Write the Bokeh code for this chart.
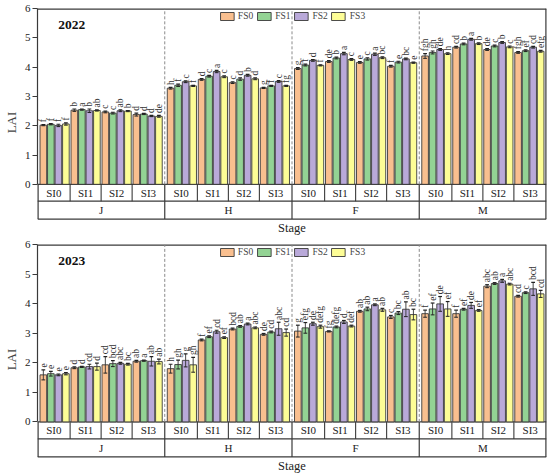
import math
from bokeh.plotting import figure
from bokeh.models import Range1d, FixedTicker, Legend, LegendItem, Label, ColumnDataSource
from bokeh.layouts import column
from bokeh.embed import file_html
from bokeh.resources import INLINE
from bokeh.core.properties import value

# ---------------- data ----------------
stages = ["J", "H", "F", "M"]
si_levels = ["SI0", "SI1", "SI2", "SI3"]
fs_levels = ["FS0", "FS1", "FS2", "FS3"]

# values ordered (stage, SI): J SI0..SI3, H SI0..SI3, F ..., M ...
lai_2022_fs0 = [2.02, 2.53, 2.47, 2.38, 3.28, 3.58, 3.47, 3.29, 3.95, 4.19, 4.16, 4.03, 4.38, 4.68, 4.60, 4.50]
lai_2022_fs1 = [2.05, 2.55, 2.43, 2.40, 3.38, 3.69, 3.59, 3.36, 4.07, 4.31, 4.28, 4.17, 4.50, 4.79, 4.72, 4.56]
lai_2022_fs2 = [2.01, 2.51, 2.51, 2.33, 3.50, 3.85, 3.72, 3.51, 4.23, 4.46, 4.44, 4.28, 4.60, 4.95, 4.84, 4.68]
lai_2022_fs3 = [2.06, 2.52, 2.50, 2.32, 3.36, 3.67, 3.60, 3.36, 4.06, 4.26, 4.32, 4.15, 4.46, 4.80, 4.69, 4.54]

err_2022_fs0 = [0.02, 0.04, 0.03, 0.05, 0.03, 0.03, 0.03, 0.02, 0.03, 0.03, 0.03, 0.03, 0.08, 0.03, 0.03, 0.03]
err_2022_fs1 = [0.02, 0.02, 0.03, 0.02, 0.04, 0.03, 0.04, 0.02, 0.03, 0.03, 0.04, 0.03, 0.05, 0.03, 0.03, 0.03]
err_2022_fs2 = [0.04, 0.06, 0.03, 0.02, 0.03, 0.04, 0.03, 0.03, 0.03, 0.04, 0.04, 0.03, 0.03, 0.03, 0.03, 0.03]
err_2022_fs3 = [0.04, 0.02, 0.02, 0.03, 0.02, 0.03, 0.03, 0.02, 0.02, 0.03, 0.03, 0.02, 0.03, 0.03, 0.03, 0.03]

sig_2022_fs0 = ["f", "b", "c", "d", "h", "d", "c", "g", "g", "de", "e", "f", "fgh", "cd", "de", "fgh"]
sig_2022_fs1 = ["f", "a", "c", "d", "f", "c", "d", "f", "f", "b", "c", "e", "gh", "b", "c", "ef"]
sig_2022_fs2 = ["f", "b", "ab", "d", "c", "a", "b", "c", "d", "a", "a", "bc", "de", "a", "b", "cd"]
sig_2022_fs3 = ["f", "ab", "b", "de", "f", "c", "d", "fg", "f", "c", "bc", "e", "h", "b", "c", "efg"]

lai_2023_fs0 = [1.59, 1.83, 1.93, 2.05, 1.80, 2.77, 3.14, 2.96, 3.07, 3.06, 3.74, 3.55, 3.66, 3.66, 4.59, 4.25]
lai_2023_fs1 = [1.63, 1.86, 1.97, 2.07, 1.94, 2.88, 3.23, 3.04, 3.18, 3.21, 3.82, 3.68, 3.82, 3.81, 4.68, 4.37]
lai_2023_fs2 = [1.59, 1.87, 1.98, 2.05, 2.08, 3.05, 3.31, 3.15, 3.32, 3.38, 3.96, 3.81, 3.99, 3.94, 4.77, 4.50]
lai_2023_fs3 = [1.63, 1.87, 1.95, 2.04, 1.93, 2.85, 3.18, 3.02, 3.22, 3.24, 3.79, 3.63, 3.82, 3.77, 4.66, 4.33]

err_2023_fs0 = [0.17, 0.03, 0.28, 0.03, 0.15, 0.03, 0.03, 0.03, 0.20, 0.02, 0.03, 0.05, 0.12, 0.12, 0.05, 0.03]
err_2023_fs1 = [0.08, 0.02, 0.10, 0.02, 0.15, 0.03, 0.03, 0.03, 0.18, 0.03, 0.06, 0.05, 0.20, 0.03, 0.03, 0.03]
err_2023_fs2 = [0.03, 0.08, 0.03, 0.16, 0.22, 0.05, 0.03, 0.22, 0.05, 0.05, 0.03, 0.25, 0.25, 0.10, 0.05, 0.22]
err_2023_fs3 = [0.04, 0.12, 0.03, 0.08, 0.25, 0.03, 0.03, 0.12, 0.05, 0.03, 0.05, 0.18, 0.25, 0.03, 0.03, 0.12]

sig_2023_fs0 = ["e", "d", "cd", "ab", "h", "f", "bcd", "de", "g", "fg", "ab", "c", "f", "f", "abc", "cd"]
sig_2023_fs1 = ["e", "d", "bcd", "a", "gh", "ef", "ab", "cd", "efg", "defg", "ab", "bc", "ef", "ef", "ab", "c"]
sig_2023_fs2 = ["e", "cd", "abc", "ab", "g", "cd", "a", "abc", "de", "d", "a", "ab", "de", "de", "a", "bcd"]
sig_2023_fs3 = ["e", "d", "bc", "ab", "gh", "ef", "abc", "cd", "defg", "def", "ab", "bc", "ef", "ef", "abc", "cd"]

y_ticks = [0, 1, 2, 3, 4, 5, 6]

# ---------------- style ----------------
FONT = "Liberation Serif"
COLORS = ["#F9BF8F", "#93D394", "#B9A9D9", "#FDFD96"]
EDGE = "#3a3a3a"
BAR_W = 0.88
GROUP_GAP = 0.12
STAGE_PAD = 0.55
N_SI = len(si_levels)
N_FS = len(fs_levels)
GROUP_W = N_FS + GROUP_GAP
STAGE_W = N_SI * N_FS + (N_SI - 1) * GROUP_GAP + STAGE_PAD
X_END = len(stages) * STAGE_W
Y_SI = -0.575
Y_TABLE = -1.185
Y_TITLE = -1.49
Y_MIN = -1.78
Y_TOP = 6


def bar_x(s, i, k):
    return s * STAGE_W + STAGE_PAD / 2 + i * GROUP_W + k + 0.5


def si_edges(s):
    left = s * STAGE_W
    edges = [left]
    for i in range(1, N_SI):
        edges.append(left + STAGE_PAD / 2 + i * GROUP_W - GROUP_GAP / 2)
    edges.append(left + STAGE_W)
    return edges


def make_panel(year, series, errs, sigs, height):
    p = figure(width=548, height=height, x_range=Range1d(0, X_END), y_range=Range1d(Y_MIN, Y_TOP),
               output_backend="svg", toolbar_location=None, x_axis_location=None,
               min_border_top=8, min_border_right=2, min_border_left=34, min_border_bottom=0)
    p.outline_line_color = None
    p.xgrid.visible = False
    p.ygrid.visible = False
    p.background_fill_color = "white"

    # y axis
    p.yaxis.ticker = FixedTicker(ticks=y_ticks)
    p.yaxis.bounds = (0, 6)
    p.yaxis.major_tick_out = 5
    p.yaxis.major_tick_in = 0
    p.yaxis.minor_tick_line_color = None
    p.yaxis.axis_line_color = EDGE
    p.yaxis.axis_line_width = 1.2
    p.yaxis.major_tick_line_color = EDGE
    p.yaxis.major_label_text_font = FONT
    p.yaxis.major_label_text_font_size = "11px"
    p.yaxis.major_label_text_color = "#222"
    p.yaxis.major_label_standoff = 2
    p.yaxis.axis_label = "LAI"
    p.yaxis.axis_label_text_font = FONT
    p.yaxis.axis_label_text_font_size = "13px"
    p.yaxis.axis_label_text_font_style = "normal"
    p.yaxis.axis_label_standoff = 3

    # frame / table lines (edge lines are half clipped, hence doubled width)
    p.segment(x0=[0], y0=[Y_TOP], x1=[X_END], y1=[Y_TOP], line_color=EDGE, line_width=2.4)
    p.segment(x0=[X_END], y0=[Y_TABLE], x1=[X_END], y1=[Y_TOP], line_color=EDGE, line_width=2.4)
    p.segment(x0=[0], y0=[Y_TABLE], x1=[0], y1=[0], line_color=EDGE, line_width=2.4)
    p.segment(x0=[0, 0, 0], y0=[0, Y_SI, Y_TABLE], x1=[X_END] * 3, y1=[0, Y_SI, Y_TABLE],
              line_color=EDGE, line_width=1.2)
    sep_x = []
    for s in range(len(stages)):
        sep_x.extend(si_edges(s)[1:-1])
    p.segment(x0=sep_x, y0=[Y_SI] * len(sep_x), x1=sep_x, y1=[0] * len(sep_x), line_color=EDGE, line_width=1.1)
    stage_b = [s * STAGE_W for s in range(1, len(stages))]
    p.segment(x0=stage_b, y0=[Y_TABLE] * len(stage_b), x1=stage_b, y1=[0] * len(stage_b),
              line_color=EDGE, line_width=1.2)
    p.segment(x0=stage_b, y0=[0] * len(stage_b), x1=stage_b, y1=[Y_TOP] * len(stage_b),
              line_color="#8a8a8a", line_width=1, line_dash="3 2")

    # table texts
    si_x, si_t, st_x = [], [], []
    for s in range(len(stages)):
        e = si_edges(s)
        for i in range(N_SI):
            si_x.append((e[i] + e[i + 1]) / 2)
            si_t.append(si_levels[i])
        st_x.append(s * STAGE_W + STAGE_W / 2)
    p.text(x=si_x, y=[Y_SI / 2] * len(si_x), text=si_t, text_align="center", text_baseline="middle",
           text_font=value(FONT), text_font_size="11px", text_color="#222")
    p.text(x=st_x, y=[(Y_SI + Y_TABLE) / 2] * len(st_x), text=stages, text_align="center",
           text_baseline="middle", text_font=value(FONT), text_font_size="11px", text_color="#222")
    p.text(x=[X_END / 2], y=[Y_TITLE], text=["Stage"], text_align="center", text_baseline="middle",
           text_font=value(FONT), text_font_size="12.5px", text_color="#222")

    # bars
    items = []
    for k in range(N_FS):
        xs, tops, es, ls = [], [], [], []
        for s in range(len(stages)):
            for i in range(N_SI):
                idx = s * N_SI + i
                xs.append(bar_x(s, i, k))
                tops.append(series[k][idx])
                es.append(errs[k][idx])
                ls.append(sigs[k][idx])
        src = ColumnDataSource(dict(
            x=xs, top=tops, lo=[t - e for t, e in zip(tops, es)], hi=[t + e for t, e in zip(tops, es)],
            cl=[x - 0.25 for x in xs], cr=[x + 0.25 for x in xs],
            ty=[t + e + 0.08 for t, e in zip(tops, es)], lab=ls))
        r = p.vbar(x="x", top="top", bottom=0, width=BAR_W, source=src, fill_color=COLORS[k],
                   line_color=EDGE, line_width=0.9)
        p.segment(x0="x", y0="lo", x1="x", y1="hi", source=src, line_color="#333", line_width=0.9)
        p.segment(x0="cl", y0="hi", x1="cr", y1="hi", source=src, line_color="#222", line_width=1.2)
        p.segment(x0="cl", y0="lo", x1="cr", y1="lo", source=src, line_color="#222", line_width=1.0)
        p.text(x="x", y="ty", text="lab", source=src, angle=math.pi / 2, text_align="left",
               text_baseline="middle", text_font=value(FONT), text_font_size="9.5px", text_color="#333")
        items.append(LegendItem(label=fs_levels[k], renderers=[r]))

    legend = Legend(items=items, orientation="horizontal", location="top_center",
                    glyph_width=17, glyph_height=10, label_height=10, label_width=14, label_standoff=3,
                    spacing=2, padding=1, margin=3, border_line_color=None,
                    background_fill_alpha=0, label_text_font=FONT, label_text_font_size="9.5px")
    p.add_layout(legend)

    p.add_layout(Label(x=2.75, y=5.45, text=year, text_font=FONT, text_font_style="bold",
                       text_font_size="13.5px", text_baseline="middle", text_color="#111"))
    return p


p1 = make_panel("2022",
                [lai_2022_fs0, lai_2022_fs1, lai_2022_fs2, lai_2022_fs3],
                [err_2022_fs0, err_2022_fs1, err_2022_fs2, err_2022_fs3],
                [sig_2022_fs0, sig_2022_fs1, sig_2022_fs2, sig_2022_fs3], 236)
p2 = make_panel("2023",
                [lai_2023_fs0, lai_2023_fs1, lai_2023_fs2, lai_2023_fs3],
                [err_2023_fs0, err_2023_fs1, err_2023_fs2, err_2023_fs3],
                [sig_2023_fs0, sig_2023_fs1, sig_2023_fs2, sig_2023_fs3], 238)

layout = column(p1, p2, spacing=0)
open("out.html", "w").write(file_html(layout, INLINE))
